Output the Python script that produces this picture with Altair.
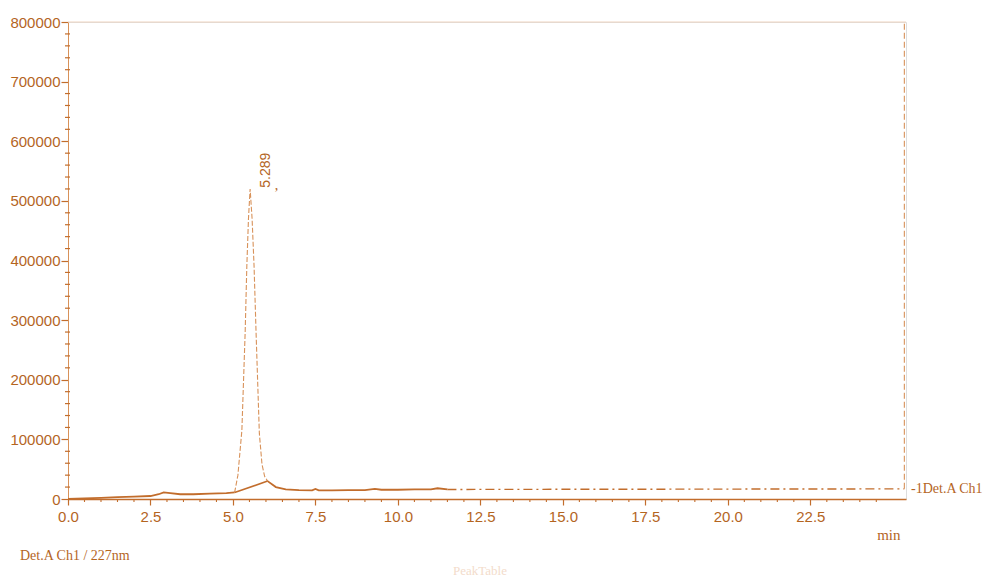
import altair as alt
import pandas as pd

# ---- data ----
pre_t = [0.0, 0.5, 1.0, 1.5, 2.0, 2.5, 2.75, 2.9, 3.1, 3.4, 3.8, 4.3, 4.8, 5.05]
pre_v = [0, 1000, 2000, 3000, 4000, 5000, 8000, 11000, 10000, 8000, 8000, 9000, 10000, 11000]

peak_t = [5.05, 5.15, 5.27, 5.37, 5.42, 5.47, 5.52, 5.58, 5.64, 5.70, 5.80, 5.88, 5.96, 6.05]
peak_v = [11000, 40000, 115000, 280000, 390000, 470000, 520000, 470000, 390000, 280000, 110000, 58000, 38000, 30000]

post_t = [6.05, 6.3, 6.6, 7.0, 7.4, 7.5, 7.6, 8.0, 8.5, 9.0, 9.3, 9.5, 10.0, 10.5, 11.0, 11.2, 11.5]
post_v = [30000, 20000, 16000, 15000, 14500, 17000, 14500, 14500, 15000, 15000, 17000, 15500, 15500, 16000, 16000, 18000, 16000]

pbase_t = [5.05, 6.05]
pbase_v = [11000, 30000]

tail_t = [11.5, 25.35]
tail_v = [16000, 17000]

end_t = [25.35, 25.35]
end_v = [17000, 800000]

x_ticks = [0.0, 2.5, 5.0, 7.5, 10.0, 12.5, 15.0, 17.5, 20.0, 22.5]
x_minor = [i * 0.5 for i in range(0, 51) if (i % 5) != 0]
y_ticks = [0, 100000, 200000, 300000, 400000, 500000, 600000, 700000, 800000]
y_minor = [v for v in range(0, 800001, 20000) if v % 100000 != 0]

peak_label_t = [5.289]
peak_label_v = [522000]
peak_label = ["5.289"]

X_MAX = 25.4
Y_MAX = 800000

W, H = 838, 477
TXT = "#b4651f"
LINE = "#c26d2c"
LIGHT = "#d8925a"

x_scale = alt.Scale(domain=[0, X_MAX], nice=False, zero=False)
y_scale = alt.Scale(domain=[0, Y_MAX], nice=False)

x_enc = alt.X(
    "t:Q", scale=x_scale,
    axis=alt.Axis(values=x_ticks, format=".1f", title="min", grid=False,
                  domainColor=LINE, domainWidth=1.5, tickColor=LINE, tickSize=6,
                  tickWidth=1.2, labelColor=TXT, labelFont="Liberation Sans",
                  labelFontSize=15, labelPadding=4, labelFlush=False,
                  titleFont="Liberation Serif", titleFontSize=15, titleFontWeight="normal",
                  titleColor=TXT, titleX=832, titleY=40, titleAlign="right",
                  titleBaseline="alphabetic"),
)
y_enc = alt.Y(
    "v:Q", scale=y_scale,
    axis=alt.Axis(values=y_ticks, format="d", title=None, grid=False,
                  domainColor=LIGHT, domainWidth=1, tickColor=LINE, tickSize=7,
                  tickWidth=1.2, labelColor=TXT, labelFont="Liberation Sans",
                  labelFontSize=15, labelPadding=1, labelFlush=False,
                  labelOpacity=alt.condition("datum.value >= 800000", alt.value(0.2), alt.value(1))),
)

def df(t, v):
    return pd.DataFrame({"t": t, "v": v})

pre = alt.Chart(df(pre_t, pre_v)).mark_line(color=LINE, strokeWidth=1.8).encode(x=x_enc, y=y_enc)
peak = alt.Chart(df(peak_t, peak_v)).mark_line(color=LIGHT, strokeWidth=1.1, strokeDash=[5, 2]).encode(x=x_enc, y=y_enc)
post = alt.Chart(df(post_t, post_v)).mark_line(color=LINE, strokeWidth=1.8).encode(x=x_enc, y=y_enc)
pbase = alt.Chart(df(pbase_t, pbase_v)).mark_line(color=LINE, strokeWidth=1.6).encode(x=x_enc, y=y_enc)
tail = alt.Chart(df(tail_t, tail_v)).mark_line(color=LINE, strokeWidth=1.4, strokeDash=[9, 4, 2, 4]).encode(x=x_enc, y=y_enc)
end = alt.Chart(df(end_t, end_v)).mark_line(color=LIGHT, strokeWidth=1.1, strokeDash=[6, 3]).encode(x=x_enc, y=y_enc)

top = alt.Chart(df([0, X_MAX], [Y_MAX, Y_MAX])).mark_line(color="#f0d6c2", strokeWidth=1.2).encode(x=x_enc, y=y_enc)

ymin = alt.Chart(pd.DataFrame({"v": y_minor})).mark_rule(color=LINE, strokeWidth=1.2).encode(
    y=y_enc, x=alt.value(-3), x2=alt.value(2))
xmin = alt.Chart(pd.DataFrame({"t": x_minor})).mark_rule(color=LINE, strokeWidth=1.1).encode(
    x=x_enc, y=alt.value(H), y2=alt.value(H + 3))

plabel = alt.Chart(pd.DataFrame({"t": peak_label_t, "v": peak_label_v, "s": peak_label})).mark_text(
    angle=270, align="left", baseline="middle", dy=24, color=TXT,
    font="Liberation Sans", fontSize=14).encode(x=x_enc, y=y_enc, text="s:N")
pcomma = alt.Chart(pd.DataFrame({"t": peak_label_t, "v": peak_label_v})).mark_text(
    text=",", align="center", baseline="middle", dx=34, dy=-2, color=TXT,
    font="Liberation Serif", fontSize=14).encode(x=x_enc, y=y_enc)

legend_lbl = alt.Chart(pd.DataFrame({"t": [X_MAX], "v": [tail_v[-1]], "s": ["-1Det.A Ch1"]})).mark_text(
    align="left", baseline="middle", dx=5, color=TXT,
    font="Liberation Serif", fontSize=14).encode(x=x_enc, y=y_enc, text="s:N")

det_lbl = alt.Chart(pd.DataFrame({"s": ["Det.A Ch1 / 227nm"]})).mark_text(
    align="left", baseline="alphabetic", color=TXT, font="Liberation Serif", fontSize=14).encode(
    x=alt.value(-48), y=alt.value(H + 61), text="s:N")

peaktable = alt.Chart(pd.DataFrame({"s": ["PeakTable"]})).mark_text(
    align="center", baseline="alphabetic", color="#f3dccb", font="Liberation Serif", fontSize=13).encode(
    x=alt.value(412), y=alt.value(H + 76), text="s:N")

chart = alt.layer(
    top, pre, peak, post, pbase, tail, end, ymin, xmin, plabel, pcomma, legend_lbl, det_lbl, peaktable
).properties(
    width=W, height=H,
    autosize=alt.AutoSizeParams(type="none"),
    padding={"left": 60, "top": 14, "right": 90, "bottom": 80},
).configure_view(stroke=None).configure(background="white")

chart.save("out.html", embed_options={"renderer": "svg", "actions": False})
